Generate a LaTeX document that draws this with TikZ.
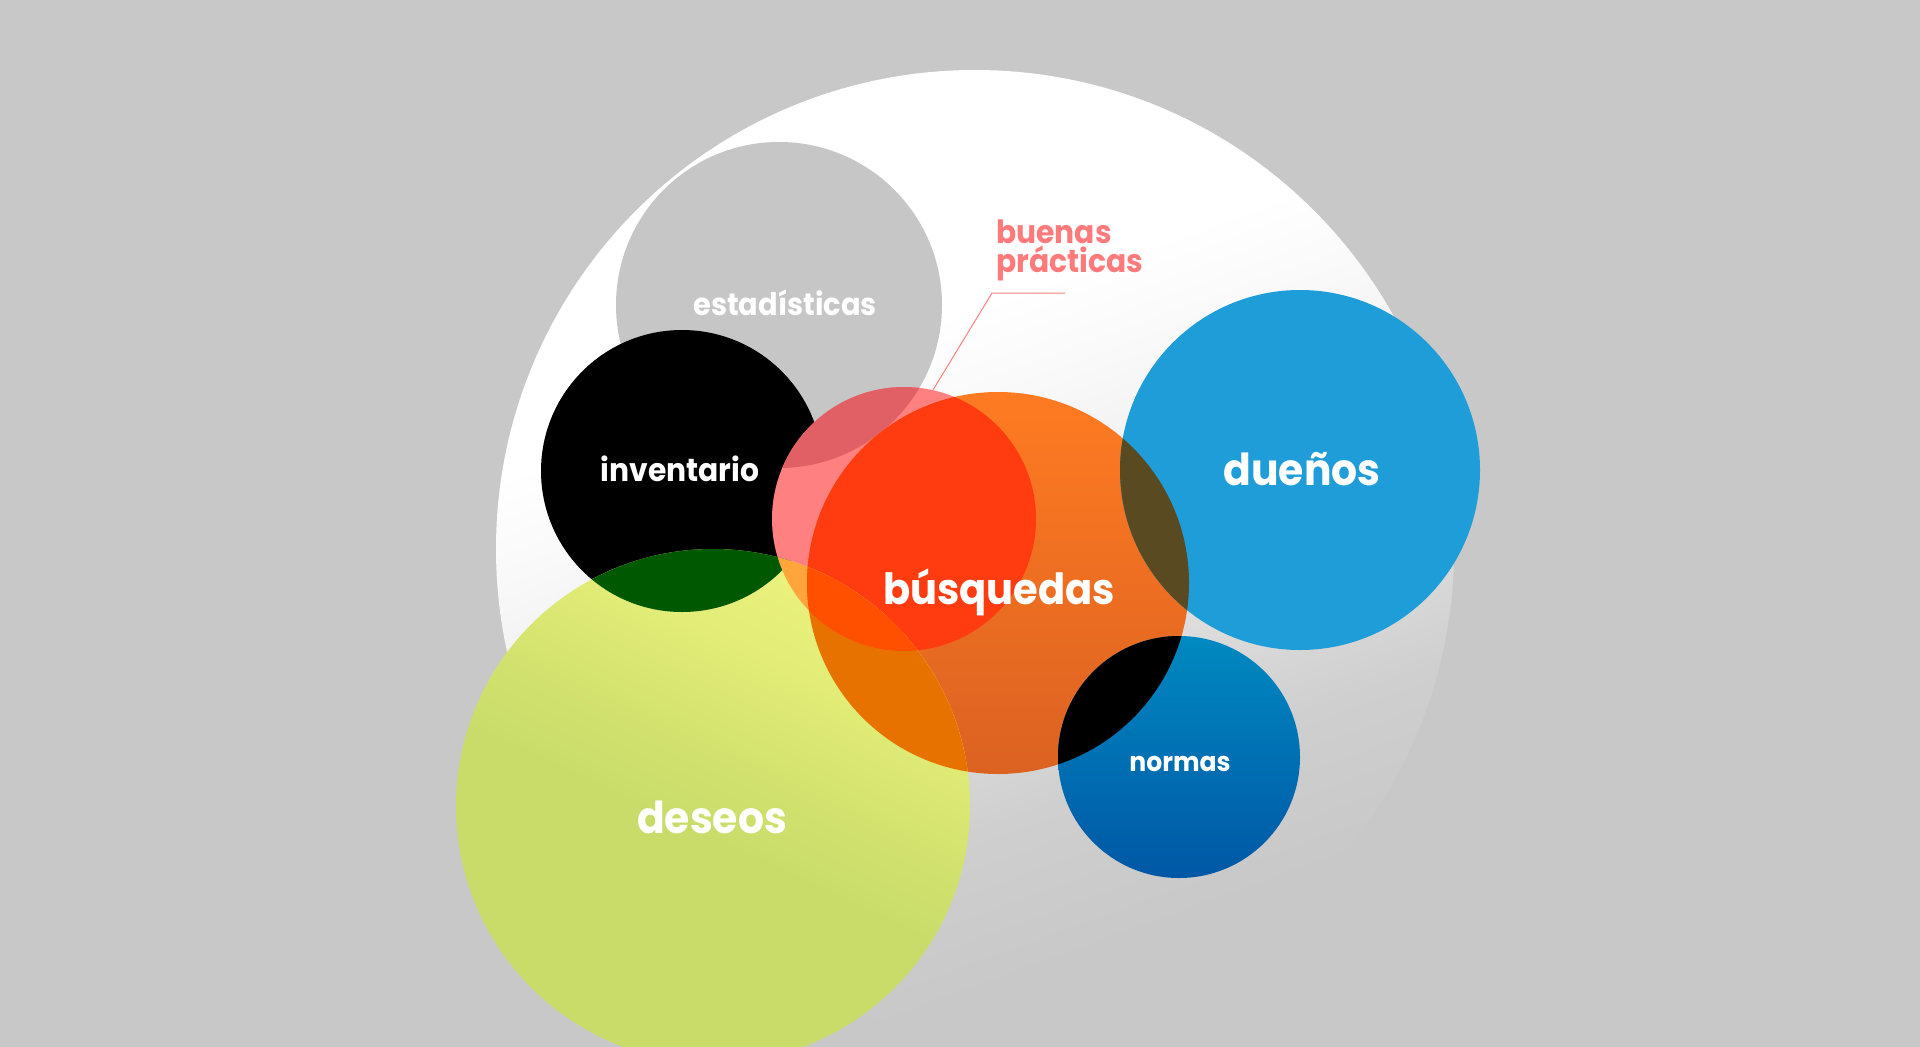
\documentclass[tikz,border=0pt]{standalone}
\usepackage{fontspec}
\setmainfont{Poppins}[FakeStretch=0.93]
\definecolor{bg}{HTML}{C8C8C8}
\definecolor{estgray}{HTML}{C6C6C6}
\definecolor{pinkc}{HTML}{FF8080}
\definecolor{pinktext}{HTML}{FF7B7B}
\definecolor{pinkgray}{HTML}{E06066}
\definecolor{redc}{HTML}{FF3C10}
\definecolor{orangetop}{HTML}{FF7B22}
\definecolor{orangebot}{HTML}{DC6222}
\definecolor{bluec}{HTML}{1E9DD8}
\definecolor{olivec}{HTML}{5A4A22}
\definecolor{ntop}{HTML}{0089C1}
\definecolor{nbot}{HTML}{0057A5}
\definecolor{darkgreen}{HTML}{005800}
\definecolor{pinkyellow}{HTML}{FFA53C}
\definecolor{orangeyellow}{HTML}{E87200}
\definecolor{triple}{HTML}{FF5000}
\definecolor{wa}{HTML}{CFCFCF}
\definecolor{wb}{HTML}{DEDEDE}
\definecolor{wc}{HTML}{EEEEEE}
\definecolor{wd}{HTML}{F9F9F9}
\definecolor{ya}{HTML}{ECF27E}
\definecolor{yb}{HTML}{E2EC77}
\definecolor{yc}{HTML}{D3E26E}
\definecolor{yd}{HTML}{C9DC6A}
\pgfdeclareverticalshading{wshade}{100bp}{color(0bp)=(bg); color(28bp)=(bg); color(36bp)=(wa); color(43bp)=(wb); color(50bp)=(wc); color(57bp)=(wd); color(62bp)=(white); color(100bp)=(white)}
\pgfdeclareverticalshading{yshade}{100bp}{color(0bp)=(yd); color(47bp)=(yd); color(55bp)=(yc); color(65bp)=(yb); color(75bp)=(ya); color(100bp)=(ya)}
\tikzset{
  lbl/.style={text=white, font=\bfseries, inner sep=0pt, anchor=base},
  pinklbl/.style={text=pinktext, font=\bfseries\fontsize{32}{32}\selectfont, inner sep=0pt, anchor=base west},
  leader/.style={draw=pinkc, line width=1pt}
}
\begin{document}
\begin{tikzpicture}[x=1pt,y=-1pt]
\useasboundingbox (0,0) rectangle (1920,1047);
\fill[bg] (0,0) rectangle (1920,1047);
% circle centres
\coordinate (cW) at (975,549);
\coordinate (cE) at (779,305);
\coordinate (cI) at (682,471);
\coordinate (cP) at (904,519);
\coordinate (cB) at (998,583);
\coordinate (cD) at (1300,470);
\coordinate (cN) at (1179,757);
\coordinate (cY) at (713,806);
\def\rW{479pt}\def\rE{163pt}\def\rI{141pt}\def\rP{132pt}
\def\rB{191pt}\def\rD{180pt}\def\rN{121pt}\def\rY{257pt}
% big white circle
\shade[shading=wshade, shading angle=20] (cW) circle[radius=\rW];
% estadisticas
\fill[estgray] (cE) circle[radius=\rE];
% inventario
\fill[black] (cI) circle[radius=\rI];
% buenas practicas
\fill[pinkc] (cP) circle[radius=\rP];
\begin{scope}\clip (cE) circle[radius=\rE];
  \fill[pinkgray] (cP) circle[radius=\rP];
\end{scope}
% busquedas
\shade[top color=orangetop, bottom color=orangebot] (cB) circle[radius=\rB];
\begin{scope}\clip (cB) circle[radius=\rB];
  \fill[redc] (cP) circle[radius=\rP];
\end{scope}
% duenos
\fill[bluec] (cD) circle[radius=\rD];
\begin{scope}\clip (cB) circle[radius=\rB];
  \fill[olivec] (cD) circle[radius=\rD];
\end{scope}
% normas
\shade[top color=ntop, bottom color=nbot] (cN) circle[radius=\rN];
\begin{scope}\clip (cB) circle[radius=\rB];
  \fill[black] (cN) circle[radius=\rN];
\end{scope}
% deseos
\shade[shading=yshade, shading angle=-25] (cY) circle[radius=\rY];
\begin{scope}\clip (cY) circle[radius=\rY];
  \fill[darkgreen] (cI) circle[radius=\rI];
\end{scope}
\begin{scope}\clip (cY) circle[radius=\rY];
  \fill[pinkyellow] (cP) circle[radius=\rP];
  \fill[orangeyellow] (cB) circle[radius=\rB];
  \clip (cB) circle[radius=\rB];
  \fill[triple] (cP) circle[radius=\rP];
\end{scope}
% leader line
\coordinate (bpA) at (1065,293);
\coordinate (bpB) at (992,293);
\coordinate (bpC) at (933,390);
\draw[leader] (bpA) -- (bpB) -- (bpC);
% labels
\node[lbl, font=\bfseries\fontsize{31}{31}\selectfont] (tE) at (785,315) {estadísticas};
\node[lbl, font=\bfseries\fontsize{32}{32}\selectfont] (tI) at (680,481) {inventario};
\node[lbl, font=\bfseries\fontsize{43}{43}\selectfont] (tB) at (999,604) {búsquedas};
\node[lbl, font=\bfseries\fontsize{44}{44}\selectfont] (tD) at (1302,485) {dueños};
\node[lbl, font=\bfseries\fontsize{44}{44}\selectfont] (tY) at (712,833) {deseos};
\node[lbl, font=\bfseries\fontsize{27}{27}\selectfont] (tN) at (1180,771) {normas};
\node[pinklbl] (tP1) at (996,243) {buenas};
\node[pinklbl] (tP2) at (996,272) {prácticas};
\end{tikzpicture}
\end{document}
